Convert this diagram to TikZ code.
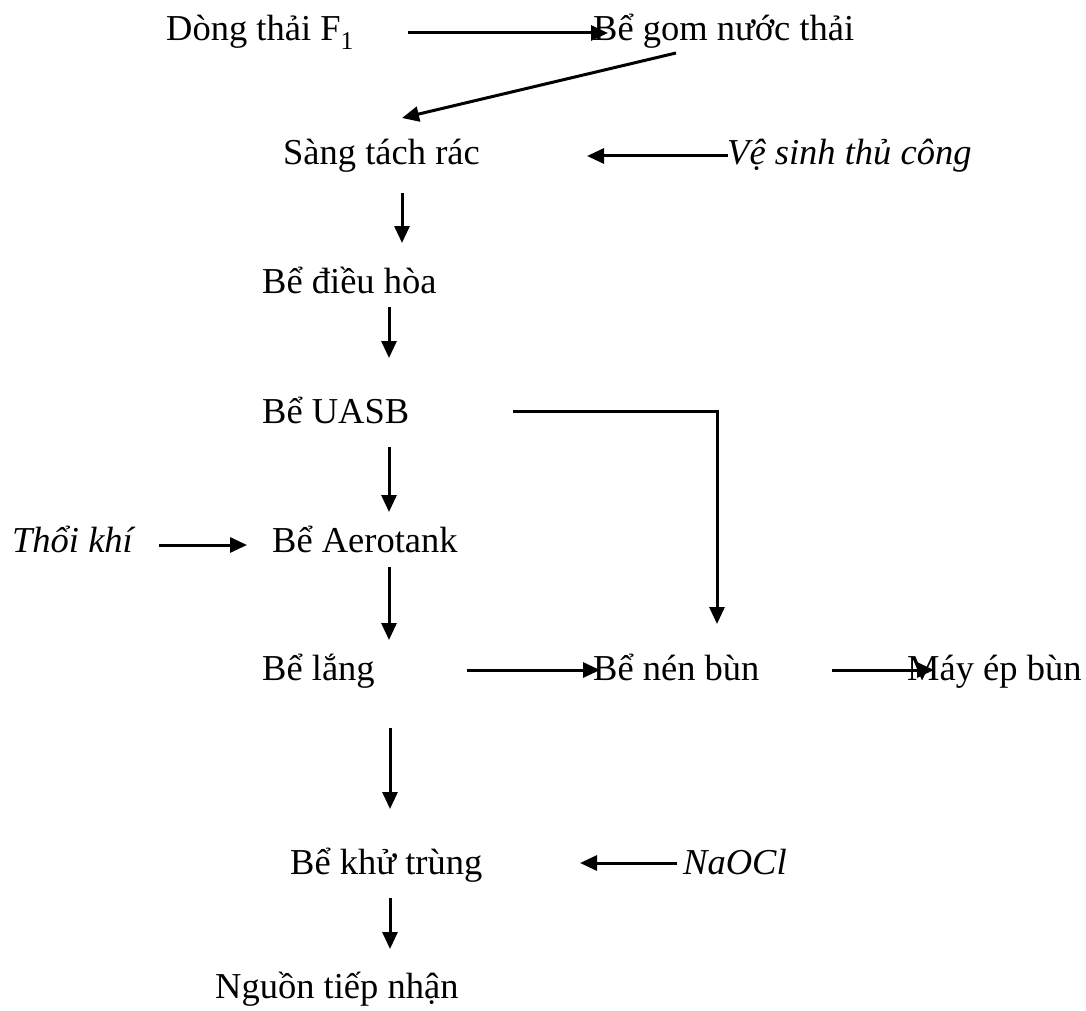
\documentclass[tikz,border=0pt]{standalone}
\usepackage{fontspec}
\setmainfont{Liberation Serif}
\usetikzlibrary{arrows.meta}
\begin{document}
\begin{tikzpicture}[x=1pt,y=-1pt,
  lbl/.style={anchor=base west,inner sep=0pt,font=\fontsize{36.5}{40}\selectfont},
  ilbl/.style={lbl,font=\fontsize{36.5}{40}\selectfont\itshape},
  flow/.style={line width=3pt,-{Triangle[length=17pt,width=15pt]}}]
\useasboundingbox (0,0) rectangle (1086,1011);
% process steps
\node[lbl]  (f1)      at (166,41)  {Dòng thải F\textsubscript{1}};
\node[lbl]  (gom)     at (593,41)  {Bể gom nước thải};
\node[lbl]  (sang)    at (283,165) {Sàng tách rác};
\node[ilbl] (vesinh)  at (727,165) {Vệ sinh thủ công};
\node[lbl]  (dieuhoa) at (262,293) {Bể điều hòa};
\node[lbl]  (uasb)    at (262,423) {Bể UASB};
\node[ilbl] (thoi)    at (12,552)  {Thổi khí};
\node[lbl]  (aero)    at (272,552) {Bể Aerotank};
\node[lbl]  (lang)    at (262,680) {Bể lắng};
\node[lbl]  (nen)     at (593,680) {Bể nén bùn};
\node[lbl]  (may)     at (907,680) {Máy ép bùn};
\node[lbl]  (khu)     at (290,874) {Bể khử trùng};
\node[ilbl] (naocl)   at (683,874) {NaOCl};
\node[lbl]  (nguon)   at (215,998) {Nguồn tiếp nhận};
% arrow end points
\coordinate (a1s) at (408,33);  \coordinate (a1e) at (608,33);
\coordinate (a2s) at (676,53);  \coordinate (a2e) at (402,118);
\coordinate (a3s) at (728,156); \coordinate (a3e) at (587,156);
\coordinate (a4s) at (402,193); \coordinate (a4e) at (402,243);
\coordinate (a5s) at (389,307); \coordinate (a5e) at (389,358);
\coordinate (a6s) at (513,411); \coordinate (a6c) at (717,411); \coordinate (a6e) at (717,624);
\coordinate (a7s) at (389,447); \coordinate (a7e) at (389,512);
\coordinate (a8s) at (159,545); \coordinate (a8e) at (247,545);
\coordinate (a9s) at (389,567); \coordinate (a9e) at (389,640);
\coordinate (a10s) at (467,670); \coordinate (a10e) at (600,670);
\coordinate (a11s) at (832,670); \coordinate (a11e) at (934,670);
\coordinate (a12s) at (390,728); \coordinate (a12e) at (390,809);
\coordinate (a13s) at (677,863); \coordinate (a13e) at (580,863);
\coordinate (a14s) at (390,898); \coordinate (a14e) at (390,949);
% connectors
\draw[flow] (a1s) -- (a1e);
\draw[flow] (a2s) -- (a2e);
\draw[flow] (a3s) -- (a3e);
\draw[flow] (a4s) -- (a4e);
\draw[flow] (a5s) -- (a5e);
\draw[flow] (a6s) -- (a6c) -- (a6e);
\draw[flow] (a7s) -- (a7e);
\draw[flow] (a8s) -- (a8e);
\draw[flow] (a9s) -- (a9e);
\draw[flow] (a10s) -- (a10e);
\draw[flow] (a11s) -- (a11e);
\draw[flow] (a12s) -- (a12e);
\draw[flow] (a13s) -- (a13e);
\draw[flow] (a14s) -- (a14e);
\end{tikzpicture}
\end{document}
